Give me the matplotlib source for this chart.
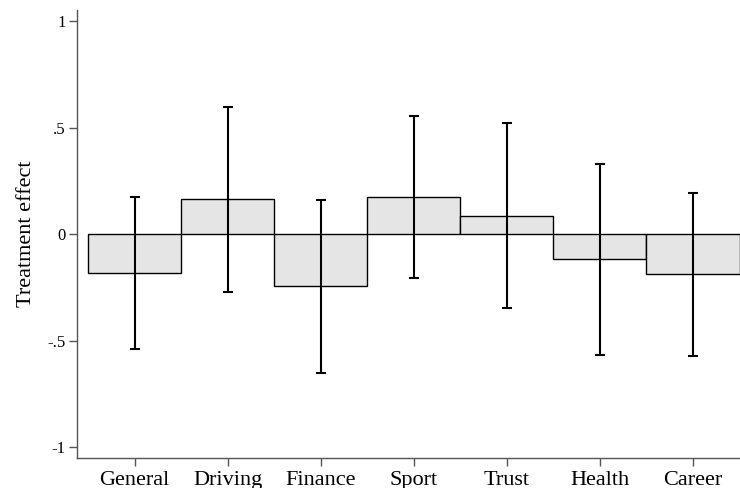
import matplotlib
matplotlib.use("Agg")
import matplotlib.pyplot as plt
import numpy as np

categories = ['General', 'Driving', 'Finance', 'Sport', 'Trust', 'Health', 'Career']
effects = [-0.182, 0.164, -0.244, 0.172, 0.086, -0.119, -0.189]
ci_low = [-0.540, -0.271, -0.651, -0.208, -0.347, -0.567, -0.571]
ci_high = [0.174, 0.598, 0.160, 0.553, 0.521, 0.327, 0.192]
yticks = [-1, -0.5, 0, 0.5, 1]
yticklabels = ['-1', '-.5', '0', '.5', '1']

plt.rcParams['font.family'] = ['Liberation Serif', 'DejaVu Serif']

fig = plt.figure(figsize=(7.4, 4.88), dpi=100)
ax = fig.add_axes([0.104, 0.0605, 0.896, 0.919])

x = np.arange(1, len(categories) + 1)
ax.bar(x, effects, width=1.0, color='#e5e5e5', edgecolor='black', linewidth=1.0, zorder=2)
ax.vlines(x, ci_low, ci_high, color='black', linewidth=1.5, zorder=3)
ax.plot(x, ci_low, linestyle='none', marker='_', markersize=7, markeredgewidth=1.5, color='black', zorder=3)
ax.plot(x, ci_high, linestyle='none', marker='_', markersize=7, markeredgewidth=1.5, color='black', zorder=3)

ax.set_xlim(0.38, 7.505)
ax.set_ylim(-1.054, 1.052)
ax.set_xticks(x)
ax.set_xticklabels(categories, fontsize=16)
ax.set_yticks(yticks)
ax.set_yticklabels(yticklabels, fontsize=12)
ax.set_ylabel('Treatment effect', fontsize=16, labelpad=8)

for s in ['top', 'right']:
    ax.spines[s].set_visible(False)
for s in ['left', 'bottom']:
    ax.spines[s].set_color('#555555')
    ax.spines[s].set_linewidth(1.0)
ax.tick_params(axis='both', direction='out', length=6, width=1.0, color='#555555')
ax.tick_params(axis='x', pad=3)
ax.tick_params(axis='y', pad=2)

fig.savefig('out.png', dpi=100)
